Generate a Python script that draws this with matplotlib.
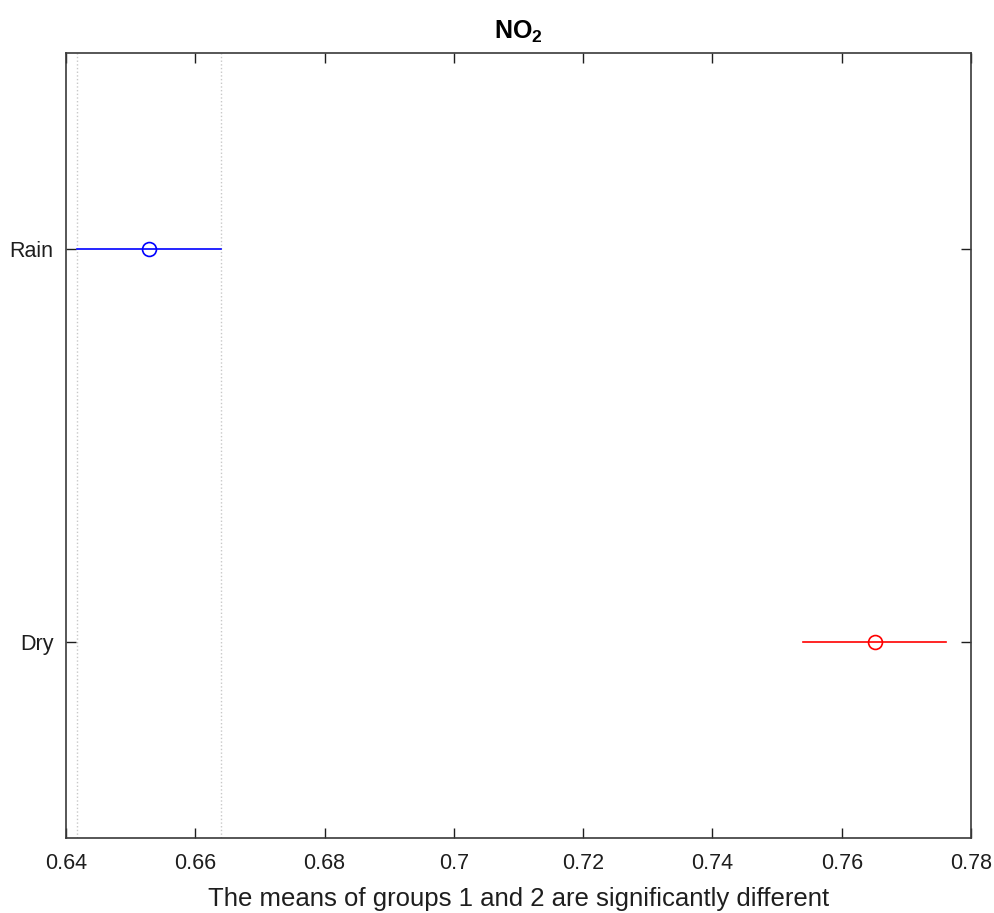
import numpy as np
import matplotlib.pyplot as plt

# group estimates and comparison interval half-widths
groups = ['Dry', 'Rain']
means = [0.7651, 0.6528]
half_width = [0.0111, 0.0111]
colors = ['red', 'blue']
xticks = [0.64, 0.66, 0.68, 0.70, 0.72, 0.74, 0.76, 0.78]
xtick_labels = ['0.64', '0.66', '0.68', '0.7', '0.72', '0.74', '0.76', '0.78']

plt.rcParams['font.family'] = ['Liberation Sans', 'DejaVu Sans']

fig = plt.figure(figsize=(9.94, 9.13), dpi=100)
ax = fig.add_axes([0.0664, 0.0821, 0.9105, 0.8598])

ypos = np.arange(1, len(groups) + 1)

# reference group (Rain) interval edges as dotted guides
ref = 1
lo, hi = means[ref] - half_width[ref], means[ref] + half_width[ref]
for xv in (lo, hi):
    ax.axvline(xv, color='#c8c8c8', linestyle=':', linewidth=1.0, zorder=1)

for y, m, hw, c in zip(ypos, means, half_width, colors):
    ax.plot([m - hw, m + hw], [y, y], color=c, linewidth=1.2, zorder=2)
    ax.plot(m, y, marker='o', markersize=10, markerfacecolor='none',
            markeredgecolor=c, markeredgewidth=1.2, zorder=3)

ax.set_xlim(0.64, 0.78)
ax.set_ylim(0.5, 2.5)
ax.set_xticks(xticks)
ax.set_xticklabels(xtick_labels)
ax.set_yticks(ypos)
ax.set_yticklabels(groups)

ax.tick_params(axis='x', pad=11)
ax.tick_params(direction='in', length=7, width=1.0, top=True, right=True,
               labelsize=15.5, colors='#1e1e1e')
ax.tick_params(axis='y', pad=9)
for s in ax.spines.values():
    s.set_color('#3a3a3a')
    s.set_linewidth(1.2)

ax.set_title('NO$_\\mathregular{2}$', fontsize=18, fontweight='bold', pad=10)
ax.set_xlabel('The means of groups 1 and 2 are significantly different',
              fontsize=18.5, color='#1e1e1e', labelpad=9)

fig.savefig('out.png', dpi=100)
